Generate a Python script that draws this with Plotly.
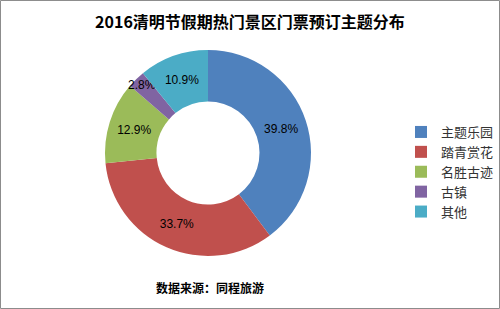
import plotly.graph_objects as go

categories = ["主题乐园", "踏青赏花", "名胜古迹", "古镇", "其他"]
shares = [39.8, 33.7, 12.9, 2.8, 10.9]
colors = ["#4F81BD", "#C0504D", "#9BBB59", "#8064A2", "#4BACC6"]
title_text = "2016清明节假期热门景区门票预订主题分布"
source_text = "数据来源：同程旅游"

W, H = 500, 309
cx, cy, r = 208, 153, 103

fig = go.Figure(go.Pie(
    labels=categories,
    values=shares,
    marker=dict(colors=colors, line=dict(width=0)),
    hole=0.5,
    sort=False,
    direction="clockwise",
    rotation=0,
    texttemplate="%{value:.1f}%",
    textposition="inside",
    insidetextorientation="horizontal",
    textfont=dict(family="Liberation Sans, Arial", size=12, color="#000000"),
    domain=dict(x=[(cx - r) / W, (cx + r) / W], y=[(H - cy - r) / H, (H - cy + r) / H]),
    showlegend=True,
))

fig.update_layout(
    width=W, height=H,
    margin=dict(l=0, r=0, t=0, b=0),
    paper_bgcolor="white",
    plot_bgcolor="white",
    uniformtext=dict(minsize=12, mode="show"),
    title=dict(text="<b>" + title_text + "</b>", x=0.5, xanchor="center", y=1 - 22 / H, yanchor="middle",
               font=dict(family="Noto Sans CJK SC", size=16, color="#000000")),
    legend=dict(x=0.802, y=1 - 117 / H, xanchor="left", yanchor="top",
                font=dict(family="Noto Sans CJK SC", size=13, color="#333333"),
                bgcolor="rgba(0,0,0,0)"),
    annotations=[dict(text="<b>" + source_text + "</b>", x=210 / W, y=1 - 287 / H, xref="paper", yref="paper",
                      xanchor="center", yanchor="middle",
                      showarrow=False, font=dict(family="Noto Sans CJK SC", size=12, color="#000000"))],
    shapes=[dict(type="rect", xref="paper", yref="paper", x0=0.001, y0=0.0016, x1=0.999, y1=0.9984,
                 line=dict(color="#8c8c8c", width=1))],
)

fig.write_html("out.html")
